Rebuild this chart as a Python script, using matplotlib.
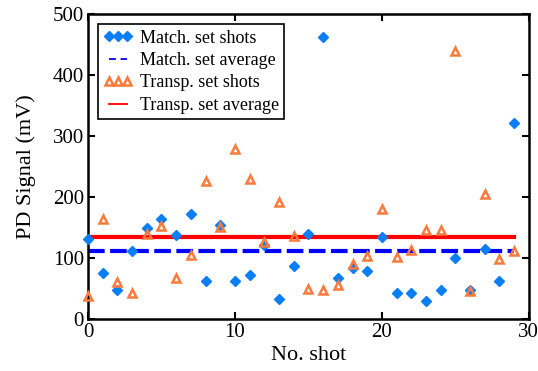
import numpy as np
import matplotlib
matplotlib.use("Agg")
import matplotlib.pyplot as plt
from matplotlib.lines import Line2D

plt.rcParams["font.family"] = ["Liberation Serif", "DejaVu Serif"]
plt.rcParams["mathtext.fontset"] = "stix"

# Photodiode signal per shot (mV)
shots = np.arange(30)
match_shots = [131, 76, 47, 111, 150, 164, 138, 172, 62, 155,
               62, 72, 121, 33, 87, 139, 463, 67, 84, 78,
               134, 43, 43, 30, 47, 100, 47, 115, 62, 321]
transp_shots = [37, 164, 61, 43, 139, 152, 68, 105, 226, 151,
                279, 230, 127, 192, 137, 49, 48, 56, 90, 104,
                181, 101, 114, 146, 146, 440, 46, 205, 99, 111]

match_avg = np.mean(match_shots)
transp_avg = np.mean(transp_shots)

c_match = "#0a7ef5"
c_transp = "#fb7a3c"

fig = plt.figure(figsize=(5.38, 3.71), dpi=100)
ax = fig.add_axes([0.1636, 0.140, 0.8194, 0.822])

ax.plot([shots[0], shots[-1]], [match_avg, match_avg], ls=(0, (4, 1.3)),
        color="#0000ff", lw=3, zorder=2, dash_capstyle="butt")
ax.plot([shots[0], shots[-1]], [transp_avg, transp_avg], ls="-",
        color="#ff0000", lw=3, zorder=2)
ax.plot(shots, match_shots, ls="none", marker="D", ms=5, color=c_match,
        mec=c_match, clip_on=False, zorder=4)
ax.plot(shots, transp_shots, ls="none", marker="^", ms=5.5, mfc="none",
        mec=c_transp, mew=1.8, clip_on=False, zorder=5)

ax.set_xlim(0, 30)
ax.set_ylim(0, 500)
ax.set_xticks([0, 10, 20, 30])
ax.set_yticks([0, 100, 200, 300, 400, 500])
ax.tick_params(direction="in", length=5, width=1.5, top=True, right=True,
               labelsize=15, pad=3)
for s in ax.spines.values():
    s.set_linewidth(1.8)

ax.set_xlabel("No. shot", fontsize=16, labelpad=3)
ax.set_ylabel("PD Signal (mV)", fontsize=16, labelpad=12)

handles = [
    Line2D([], [], ls="none", marker="D", ms=5, color=c_match),
    Line2D([], [], ls=(0, (3.8, 2.6)), color="#0000ff", lw=1.3),
    Line2D([], [], ls="none", marker="^", ms=5.5, mfc="none", mec=c_transp, mew=1.8),
    Line2D([], [], ls="-", color="#ff0000", lw=1.3),
]
labels = ["Match. set shots", "Match. set average",
          "Transp. set shots", "Transp. set average"]
leg = ax.legend(handles, labels, loc="upper left", bbox_to_anchor=(0.023, 0.967),
                numpoints=3, fontsize=13, frameon=True, fancybox=False,
                edgecolor="black", framealpha=1, handlelength=1.6,
                handletextpad=0.4, borderpad=0.3, labelspacing=0.3,
                borderaxespad=0)
leg.get_frame().set_linewidth(1.2)

fig.savefig("out.png", dpi=100)
